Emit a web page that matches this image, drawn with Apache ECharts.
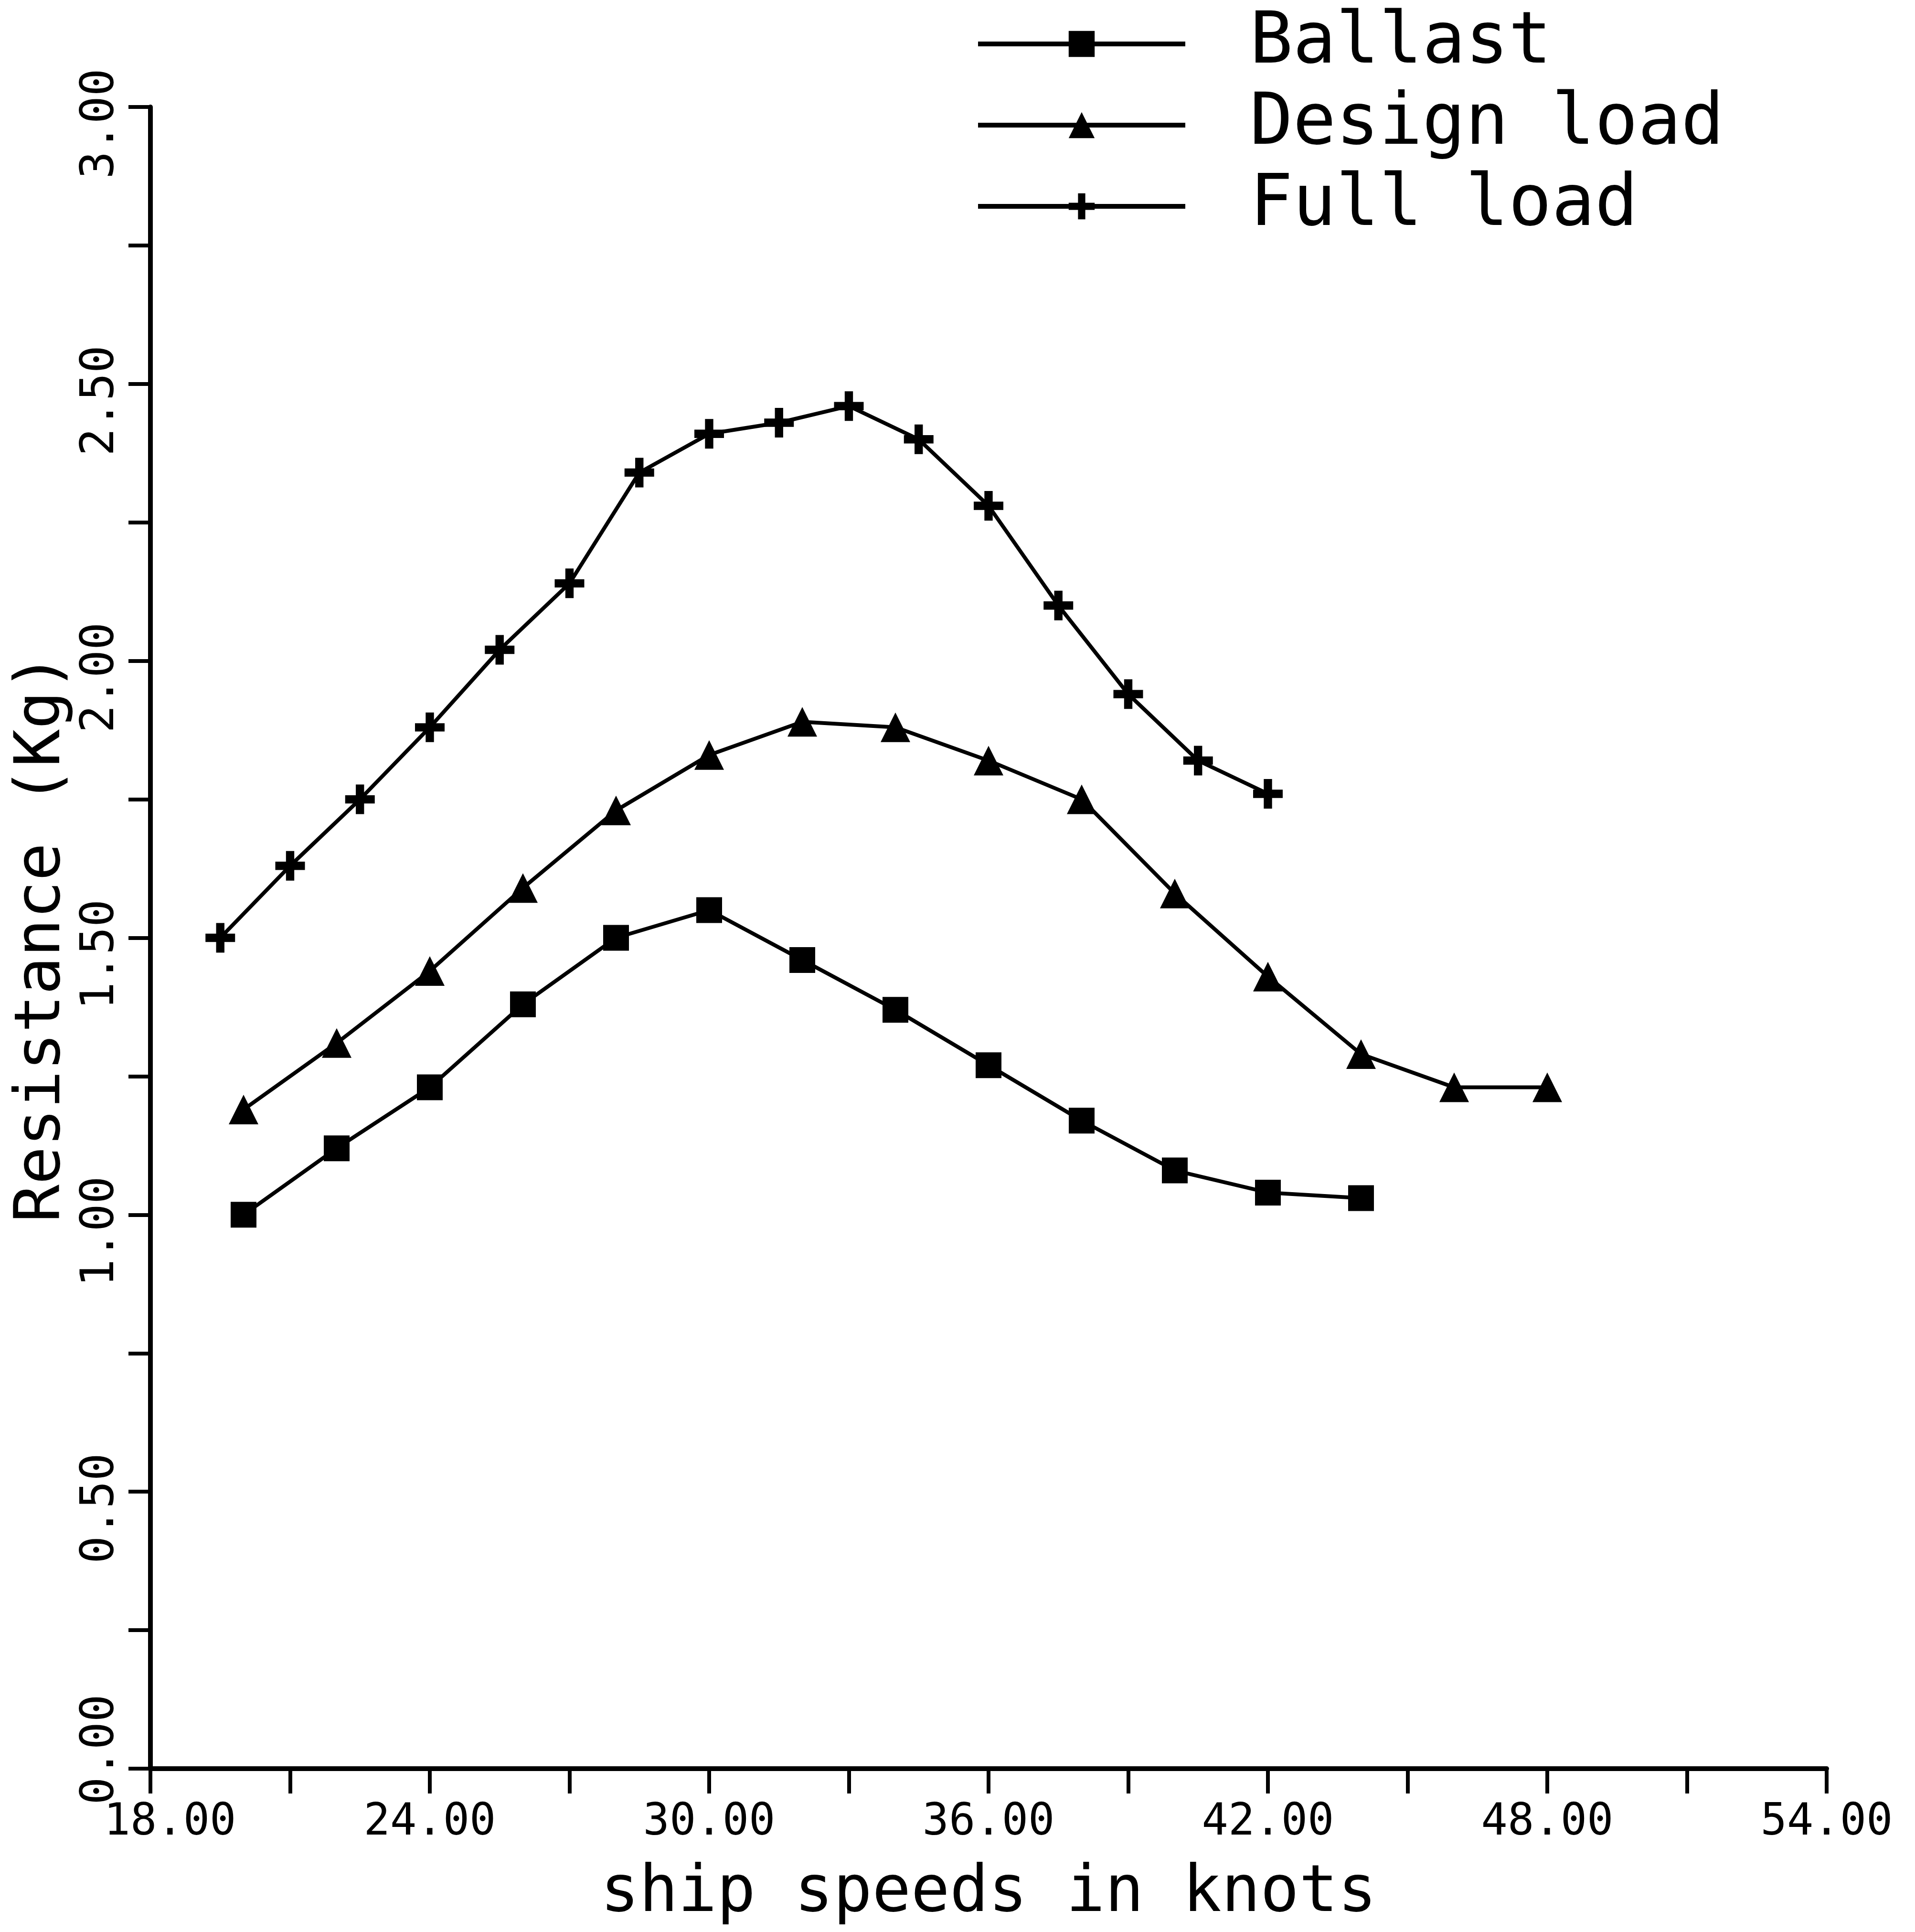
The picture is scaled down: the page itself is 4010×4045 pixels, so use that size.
<!DOCTYPE html>
<html>
<head>
<meta charset="utf-8">
<script src="https://cdn.jsdelivr.net/npm/echarts@6/dist/echarts.min.js"></script>
<style>
  html, body { margin: 0; padding: 0; background: #fff; }
  #chart { width: 4010px; height: 4045px; }
</style>
</head>
<body>
<div id="chart"></div>
<script>
// ship speed (knots) and resistance (Kg)
var ballastX = [20, 22, 24, 26, 28, 30, 32, 34, 36, 38, 40, 42, 44];
var ballastY = [1.00, 1.12, 1.23, 1.38, 1.50, 1.55, 1.46, 1.37, 1.27, 1.17, 1.08, 1.04, 1.03];

var designX = [20, 22, 24, 26, 28, 30, 32, 34, 36, 38, 40, 42, 44, 46, 48];
var designY = [1.19, 1.31, 1.44, 1.59, 1.73, 1.83, 1.89, 1.88, 1.82, 1.75, 1.58, 1.43, 1.29, 1.23, 1.23];

var fullX = [19.5, 21, 22.5, 24, 25.5, 27, 28.5, 30, 31.5, 33, 34.5, 36, 37.5, 39, 40.5, 42];
var fullY = [1.50, 1.63, 1.75, 1.88, 2.02, 2.14, 2.34, 2.41, 2.43, 2.46, 2.40, 2.28, 2.10, 1.94, 1.82, 1.76];

// labelled ticks (the other ticks are drawn without a label)
var xLabelTicks = [18, 24, 30, 36, 42, 48, 54];
var yLabelTicks = [0, 0.5, 1, 1.5, 2, 2.5, 3];

var seriesNames = ['Ballast', 'Design load', 'Full load'];

function pairs(xs, ys) {
    var out = [];
    for (var i = 0; i < xs.length; i++) out.push([xs[i], ys[i]]);
    return out;
}
function hasTick(list, v) {
    for (var i = 0; i < list.length; i++) {
        if (Math.abs(list[i] - v) < 1e-6) return true;
    }
    return false;
}

var font = 'DejaVu Sans Mono';
var plusPath = 'path://M3.6,0h2.8v3.6h3.6v2.8h-3.6v3.6h-2.8v-3.6h-3.6v-2.8h3.6z';

var myChart = echarts.init(document.getElementById('chart'));
var option = {
    backgroundColor: '#fff',
    animation: false,
    grid: {
        left: 315,
        right: 185,
        top: 224,
        bottom: 342
    },
    legend: {
        orient: 'vertical',
        left: 2038,
        top: 12,
        itemWidth: 434,
        itemHeight: 68,
        itemGap: 20,
        data: seriesNames,
        lineStyle: { width: 10 },
        textStyle: {
            fontFamily: font,
            fontSize: 150,
            lineHeight: 150,
            color: '#000',
            padding: [0, 0, 0, 130]
        }
    },
    xAxis: {
        type: 'value',
        min: 18,
        max: 54,
        interval: 3,
        name: 'ship speeds in knots',
        nameLocation: 'middle',
        nameGap: 195,
        nameTextStyle: {
            fontFamily: font,
            fontSize: 135,
            color: '#000'
        },
        splitLine: { show: false },
        axisLine: { lineStyle: { color: '#000', width: 10 } },
        axisTick: { length: 52, lineStyle: { color: '#000', width: 8 } },
        axisLabel: {
            margin: 68,
            fontFamily: font,
            fontSize: 92,
            color: '#000',
            formatter: function (v) {
                if (!hasTick(xLabelTicks, v)) return '';
                // first label sits right of its tick, clear of the 0.00 label
                if (v === xLabelTicks[0]) return '{first|' + v.toFixed(2) + '}';
                return v.toFixed(2);
            },
            rich: {
                first: {
                    fontFamily: font,
                    fontSize: 92,
                    color: '#000',
                    padding: [0, 0, 0, 82]
                }
            }
        }
    },
    yAxis: {
        type: 'value',
        min: 0,
        max: 3,
        interval: 0.25,
        name: 'Resistance (Kg)',
        nameLocation: 'middle',
        nameGap: 120,
        nameTextStyle: {
            fontFamily: font,
            fontSize: 132,
            color: '#000'
        },
        splitLine: { show: false },
        axisLine: { lineStyle: { color: '#000', width: 10 } },
        axisTick: { length: 46, lineStyle: { color: '#000', width: 8 } },
        axisLabel: {
            rotate: 90,
            margin: 55,
            fontFamily: font,
            fontSize: 96,
            color: '#000',
            formatter: function (v) {
                if (!hasTick(yLabelTicks, v)) return '';
                // the 0.00 label sits above its tick, the others a little below
                if (v === 0) return '{zero|' + v.toFixed(2) + '}';
                return '{lbl|' + v.toFixed(2) + '}';
            },
            rich: {
                lbl: {
                    fontFamily: font,
                    fontSize: 96,
                    color: '#000',
                    padding: [0, 70, 0, 0]
                },
                zero: {
                    fontFamily: font,
                    fontSize: 96,
                    color: '#000',
                    padding: [0, 0, 0, 80]
                }
            }
        }
    },
    series: [
        {
            name: seriesNames[0],
            type: 'line',
            data: pairs(ballastX, ballastY),
            symbol: 'rect',
            symbolSize: 54,
            lineStyle: { color: '#000', width: 8 },
            itemStyle: { color: '#000' }
        },
        {
            name: seriesNames[1],
            type: 'line',
            data: pairs(designX, designY),
            symbol: 'triangle',
            symbolSize: 62,
            lineStyle: { color: '#000', width: 8 },
            itemStyle: { color: '#000' }
        },
        {
            name: seriesNames[2],
            type: 'line',
            data: pairs(fullX, fullY),
            symbol: plusPath,
            symbolSize: 62,
            lineStyle: { color: '#000', width: 8 },
            itemStyle: { color: '#000' }
        }
    ]
};
myChart.setOption(option);
</script>
</body>
</html>
